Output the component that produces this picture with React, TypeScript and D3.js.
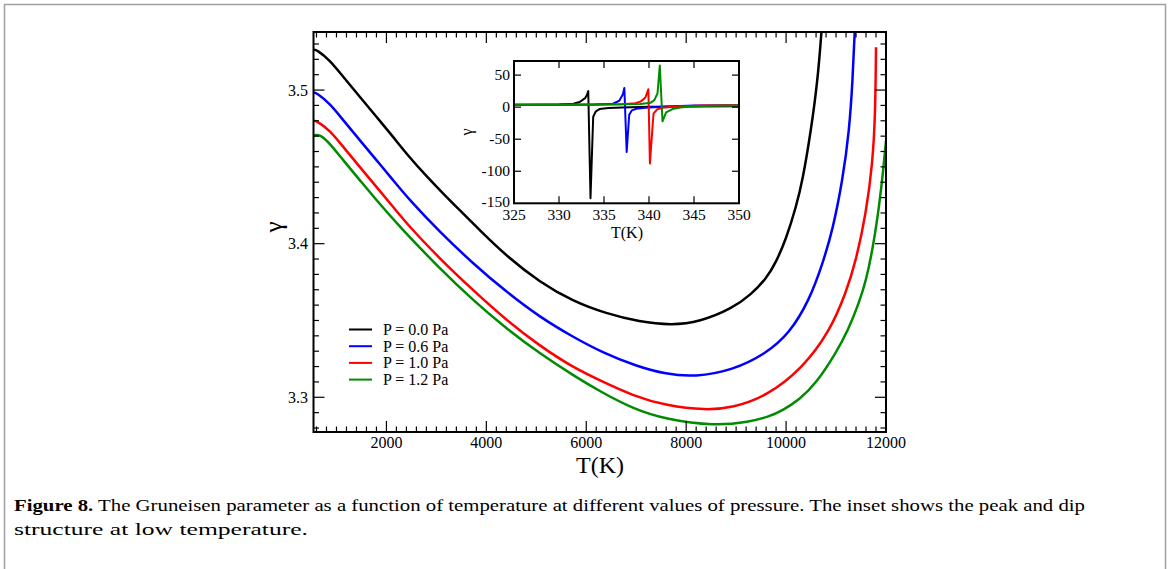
import React from "react";
import * as d3 from "d3";

// ---------- Main plot data: [T (K), gamma] ----------
const seriesNames = ["P = 0.0 Pa", "P = 0.6 Pa", "P = 1.0 Pa", "P = 1.2 Pa"];
const seriesColors = ["#000000", "#0000ff", "#ff0000", "#008b00"];

const mainP00: [number, number][] = [
  [540, 3.5262], [600, 3.5264], [866, 3.5195], [1132, 3.5087], [1466, 3.4956], [1800, 3.4826],
  [2132, 3.4696], [2466, 3.4560], [2800, 3.4440], [3132, 3.4327], [3466, 3.4218], [3866, 3.4088],
  [4400, 3.3920], [5066, 3.3750], [5732, 3.3625], [6400, 3.3545], [7066, 3.3491], [7700, 3.3469],
  [8266, 3.349], [8932, 3.3580], [9300, 3.3670], [9600, 3.3770], [9800, 3.388], [10000, 3.403],
  [10200, 3.424], [10332, 3.4414], [10500, 3.474], [10632, 3.5065], [10710, 3.538], [10730, 3.55],
];
const mainP06: [number, number][] = [
  [540, 3.4985], [600, 3.4983], [866, 3.4913], [1132, 3.4805], [1466, 3.4674], [1800, 3.4544],
  [2132, 3.4414], [2466, 3.4283], [3066, 3.4077], [3732, 3.3871], [4400, 3.3686], [5066, 3.3523],
  [5732, 3.3393], [6333, 3.3290], [7000, 3.3203], [7600, 3.3150], [8166, 3.3132], [8932, 3.3176],
  [9600, 3.3285], [10066, 3.3415], [10466, 3.3632], [10732, 3.3871], [10932, 3.4088],
  [11132, 3.4414], [11266, 3.474], [11332, 3.5065], [11375, 3.539], [11390, 3.55],
];
const mainP10: [number, number][] = [
  [540, 3.48], [600, 3.48], [866, 3.4739], [1132, 3.4631], [1466, 3.45], [1800, 3.437],
  [2132, 3.424], [2433, 3.4120], [3066, 3.3903], [3732, 3.3697], [4400, 3.3502], [5066, 3.3335],
  [5732, 3.3195], [6266, 3.3111], [6932, 3.3010], [7600, 3.2945], [8400, 3.2915], [8932, 3.2933],
  [9600, 3.3005], [10332, 3.3190], [10866, 3.3425], [11200, 3.3680], [11400, 3.3890],
  [11600, 3.4197], [11732, 3.4523], [11786, 3.4848], [11800, 3.5278],
];
const mainP12: [number, number][] = [
  [540, 3.4705], [666, 3.4713], [866, 3.4653], [1132, 3.4544], [1466, 3.4414], [1800, 3.4283],
  [2266, 3.4110], [3066, 3.3838], [3732, 3.3632], [4400, 3.3447], [5066, 3.3285], [5800, 3.3130],
  [6266, 3.3040], [6932, 3.2925], [7600, 3.2855], [8566, 3.2813], [9266, 3.2839], [9666, 3.2875],
  [9932, 3.2915], [10266, 3.2985], [10600, 3.3090], [11000, 3.3290], [11232, 3.3430],
  [11466, 3.3620], [11600, 3.3760], [11732, 3.3960], [11866, 3.4250], [11946, 3.4480], [12000, 3.4670],
];
const mainSeries = [mainP00, mainP06, mainP10, mainP12];

// ---------- Inset data: [T (K), gamma] ----------
const insetP00: [number, number][] = [
  [325, 3.5], [328, 3.8], [330, 4.3], [331.6, 5.5], [332.3, 8], [332.9, 14], [333.1, 19], [333.25, 25],
  [333.5, -142], [333.8, -15], [334.1, -6.5], [334.5, -3], [335.5, -1.5], [337, -0.5], [340, 0.5],
  [345, 1.2], [350, 1.5],
];
const insetP06: [number, number][] = [
  [325, 3.6], [330, 3.8], [334, 4.2], [336, 5.5], [336.7, 10], [337.1, 20], [337.26, 30],
  [337.52, -70], [337.8, -12], [338.1, -5], [338.6, -2.5], [339.6, -1], [342, 1], [345, 2.5], [350, 3],
];
const insetP10: [number, number][] = [
  [325, 3.6], [332, 3.9], [337, 4.5], [338.5, 6], [339.1, 9], [339.6, 15], [339.93, 28],
  [340.1, -88], [340.5, -10], [340.9, -3.5], [341.5, -1], [343, 1], [346, 2.5], [350, 3],
];
const insetP12: [number, number][] = [
  [325, 3.7], [335, 4.2], [339, 5], [340.2, 7], [340.6, 11], [340.95, 22], [341.2, 65],
  [341.5, -22], [341.9, -8], [342.6, -3], [343.5, -0.5], [344.5, 1], [347, 2.2], [350, 2.7],
];
const insetSeries = [insetP00, insetP06, insetP10, insetP12];

// ---------- Ticks ----------
const mainXTicks = [2000, 4000, 6000, 8000, 10000, 12000];
const mainYTicks = [3.3, 3.4, 3.5];
const insetXTicks = [325, 330, 335, 340, 345, 350];
const insetYTicks = [-150, -100, -50, 0, 50];

const captionBold = "Figure 8.";
const captionLine1 =
  " The Gruneisen parameter as a function of temperature at different values of pressure. The inset shows the peak and dip";
const captionLine2 = "structure at low temperature.";

const SERIF = "Liberation Serif";
const fontStyle = { fontFamily: SERIF };

export default function App() {
  // main plot geometry
  const mL = 313.5, mR = 886, mT = 32, mB = 432;
  const x = d3.scaleLinear().domain([540, 12000]).range([mL, mR]);
  const y = d3.scaleLinear().domain([3.2774, 3.5378]).range([mB, mT]);

  // inset geometry
  const iL = 514, iR = 739, iT = 61, iB = 203.3;
  const ix = d3.scaleLinear().domain([325, 350]).range([iL, iR]);
  const iy = d3.scaleLinear().domain([-150, 72]).range([iB, iT]);

  const mainLine = d3
    .line<[number, number]>()
    .x((d) => x(d[0]))
    .y((d) => y(d[1]))
    .curve(d3.curveBasis);
  const insetLine = d3
    .line<[number, number]>()
    .x((d) => ix(d[0]))
    .y((d) => iy(d[1]));

  const xMinor = d3.range(600, 12001, 200).filter((v) => !mainXTicks.includes(v));
  const yMinor = d3
    .range(3.28, 3.5375, 0.01)
    .map((v) => Math.round(v * 100) / 100)
    .filter((v) => !mainYTicks.some((t) => Math.abs(t - v) < 1e-6));

  const legendX1 = 349, legendX2 = 372, legendTextX = 383;
  const legendY0 = 329.5, legendDy = 16.7;

  return (
    <svg
      width={1170}
      height={569}
      style={{ position: "absolute", left: 0, top: 0, background: "#fff", fontFamily: SERIF }}
    >
      <rect x={0} y={0} width={1170} height={569} fill="#fff" />
      {/* outer figure frame */}
      <rect x={4.5} y={4.5} width={1161} height={620} fill="none" stroke="#a0a0a0" strokeWidth={1.5} />

      <defs>
        <clipPath id="mainClip">
          <rect x={mL} y={mT} width={mR - mL} height={mB - mT} />
        </clipPath>
        <clipPath id="insetClip">
          <rect x={iL} y={iT} width={iR - iL} height={iB - iT} />
        </clipPath>
      </defs>

      {/* main curves */}
      <g clipPath="url(#mainClip)">
        {mainSeries.map((s, i) => (
          <path key={i} d={mainLine(s) || ""} fill="none" stroke={seriesColors[i]} strokeWidth={2.5} />
        ))}
      </g>

      {/* main ticks */}
      <g stroke="#000" strokeWidth={1.2}>
        {mainXTicks.map((t) => (
          <g key={"xt" + t}>
            <line x1={x(t)} x2={x(t)} y1={mB} y2={mB - 11} />
            <line x1={x(t)} x2={x(t)} y1={mT} y2={mT + 11} />
          </g>
        ))}
        {xMinor.map((t) => (
          <g key={"xm" + t}>
            <line x1={x(t)} x2={x(t)} y1={mB} y2={mB - 5.5} />
            <line x1={x(t)} x2={x(t)} y1={mT} y2={mT + 5.5} />
          </g>
        ))}
        {mainYTicks.map((t) => (
          <g key={"yt" + t}>
            <line x1={mL} x2={mL + 11} y1={y(t)} y2={y(t)} />
            <line x1={mR} x2={mR - 11} y1={y(t)} y2={y(t)} />
          </g>
        ))}
        {yMinor.map((t) => (
          <g key={"ym" + t}>
            <line x1={mL} x2={mL + 5.5} y1={y(t)} y2={y(t)} />
            <line x1={mR} x2={mR - 5.5} y1={y(t)} y2={y(t)} />
          </g>
        ))}
      </g>
      <rect x={mL} y={mT} width={mR - mL} height={mB - mT} fill="none" stroke="#000" strokeWidth={2} />

      {/* main tick labels */}
      <g fontSize={16} fill="#000" style={fontStyle}>
        {mainXTicks.map((t) => (
          <text key={"xl" + t} x={x(t)} y={448} textAnchor="middle">
            {t}
          </text>
        ))}
        {mainYTicks.map((t) => (
          <text key={"yl" + t} x={308} y={y(t) + 5.5} textAnchor="end">
            {t.toFixed(1)}
          </text>
        ))}
      </g>
      <text x={600} y={473} fontSize={24} textAnchor="middle" style={fontStyle}>
        T(K)
      </text>
      <text x={282} y={227} fontSize={25} textAnchor="middle" transform="rotate(-90 282 227)" style={fontStyle}>
        γ
      </text>

      {/* legend */}
      {seriesNames.map((n, i) => (
        <g key={n}>
          <line
            x1={legendX1}
            x2={legendX2}
            y1={legendY0 + i * legendDy}
            y2={legendY0 + i * legendDy}
            stroke={seriesColors[i]}
            strokeWidth={2}
          />
          <text x={legendTextX} y={legendY0 + i * legendDy + 5.5} fontSize={16} style={fontStyle}>
            {n}
          </text>
        </g>
      ))}

      {/* inset */}
      <rect x={iL} y={iT} width={iR - iL} height={iB - iT} fill="#fff" />
      <g clipPath="url(#insetClip)">
        {insetSeries.map((s, i) => (
          <path key={i} d={insetLine(s) || ""} fill="none" stroke={seriesColors[i]} strokeWidth={2} strokeLinejoin="round" />
        ))}
      </g>
      <g stroke="#000" strokeWidth={1.2}>
        {insetXTicks.slice(1, -1).map((t) => (
          <g key={"ixt" + t}>
            <line x1={ix(t)} x2={ix(t)} y1={iB} y2={iB - 7} />
            <line x1={ix(t)} x2={ix(t)} y1={iT} y2={iT + 7} />
          </g>
        ))}
        {insetYTicks.slice(1).map((t) => (
          <g key={"iyt" + t}>
            <line x1={iL} x2={iL + 7} y1={iy(t)} y2={iy(t)} />
            <line x1={iR} x2={iR - 7} y1={iy(t)} y2={iy(t)} />
          </g>
        ))}
      </g>
      <rect x={iL} y={iT} width={iR - iL} height={iB - iT} fill="none" stroke="#000" strokeWidth={2} />
      <g fontSize={15.5} fill="#000" style={fontStyle}>
        {insetXTicks.map((t) => (
          <text key={"ixl" + t} x={ix(t)} y={220} textAnchor="middle">
            {t}
          </text>
        ))}
        {insetYTicks.map((t) => (
          <text key={"iyl" + t} x={510} y={iy(t) + 5 - (t === -150 ? 1 : 0)} textAnchor="end">
            {t}
          </text>
        ))}
      </g>
      <text x={627} y={238} fontSize={16} textAnchor="middle" style={fontStyle}>
        T(K)
      </text>
      <text x={472} y={132} fontSize={16} textAnchor="middle" transform="rotate(-90 472 132)" style={fontStyle}>
        γ
      </text>

      {/* caption */}
      <text x={14} y={511} fontSize={17} textLength={1071} lengthAdjust="spacingAndGlyphs" style={fontStyle}>
        <tspan fontWeight="bold">{captionBold}</tspan>
        <tspan>{captionLine1}</tspan>
      </text>
      <text x={14} y={535} fontSize={17} textLength={294} lengthAdjust="spacingAndGlyphs" style={fontStyle}>
        {captionLine2}
      </text>
    </svg>
  );
}
